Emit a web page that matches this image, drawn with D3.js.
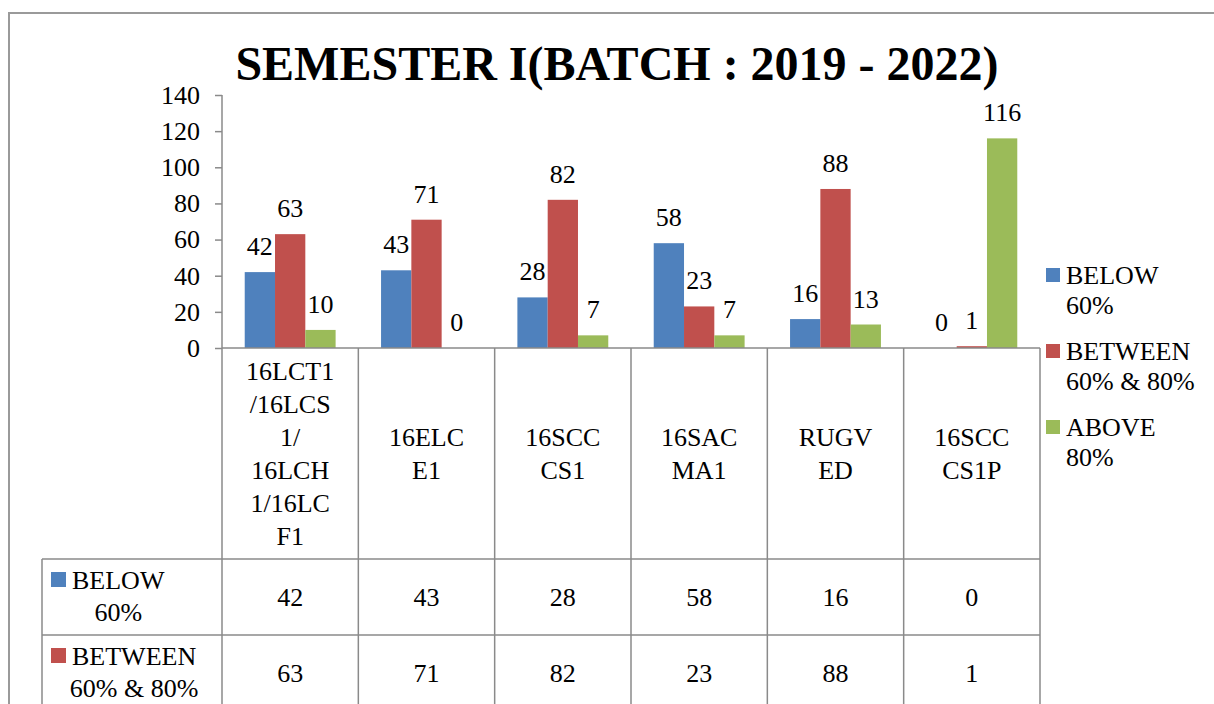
<!DOCTYPE html>
<html>
<head>
<meta charset="utf-8">
<script src="https://cdn.jsdelivr.net/npm/d3@7"></script>
<style>
  body { margin: 0; background: #fff; }
  text { font-family: "Liberation Serif", "Times New Roman", serif; fill: #000; }
</style>
</head>
<body>
<svg id="chart"></svg>
<script>
var categories = ["16LCT1/16LCS1/ 16LCH1/16LCF1", "16ELCE1", "16SCCCS1", "16SACMA1", "RUGVED", "16SCCCS1P"];
// how the category names wrap in the table header
var categoryLines = [
  ["16LCT1", "/16LCS", "1/", "16LCH", "1/16LC", "F1"],
  ["16ELC", "E1"],
  ["16SCC", "CS1"],
  ["16SAC", "MA1"],
  ["RUGV", "ED"],
  ["16SCC", "CS1P"]
];
var seriesNames = ["BELOW 60%", "BETWEEN 60% & 80%", "ABOVE 80%"];
var seriesLines = [["BELOW", "60%"], ["BETWEEN", "60% & 80%"], ["ABOVE", "80%"]];
var below = [42, 43, 28, 58, 16, 0];
var between = [63, 71, 82, 23, 88, 1];
var above = [10, 0, 7, 7, 13, 116];
var yTicks = [0, 20, 40, 60, 80, 100, 120, 140];
var title = "SEMESTER I(BATCH : 2019 - 2022)";

var colors = ["#4f81bd", "#c0504d", "#9bbb59"];
var series = [below, between, above];
var lineColor = "#8a8a8a";

var width = 1214, height = 704;
var svg = d3.select("#chart").attr("width", width).attr("height", height);

// outer frame
svg.append("path")
  .attr("d", "M9," + (height + 5) + "V13H" + (width + 5))
  .attr("fill", "none").attr("stroke", "#9a9a9a").attr("stroke-width", 2);

svg.append("text")
  .attr("x", 617).attr("y", 80)
  .attr("text-anchor", "middle")
  .style("font-size", "48px").style("font-weight", "bold")
  .text(title);

var x = d3.scaleBand().domain(categories).range([222, 1040]);
var xs = d3.scaleBand().domain([0, 1, 2])
  .range([0, x.bandwidth()]).paddingOuter(0.75).paddingInner(0);
var y = d3.scaleLinear().domain([0, 140]).range([348, 95]);

// bars
var g = svg.append("g");
series.forEach(function(vals, si) {
  g.selectAll(".bar" + si)
    .data(vals)
    .enter().append("rect")
    .attr("x", function(d, i) { return x(categories[i]) + xs(si); })
    .attr("y", function(d) { return y(d); })
    .attr("width", xs.bandwidth())
    .attr("height", function(d) { return y(0) - y(d); })
    .attr("fill", colors[si]);

  g.selectAll(".lab" + si)
    .data(vals)
    .enter().append("text")
    .attr("x", function(d, i) { return x(categories[i]) + xs(si) + xs.bandwidth() / 2; })
    .attr("y", function(d) { return y(d) - 17; })
    .attr("text-anchor", "middle")
    .style("font-size", "26px")
    .text(function(d) { return d; });
});

// y axis
var yAxis = d3.axisLeft(y).tickValues(yTicks).tickSize(7).tickPadding(15);
var ya = svg.append("g").attr("transform", "translate(222,0)").call(yAxis);
ya.select(".domain").remove();
ya.selectAll(".tick line").attr("stroke", lineColor).attr("stroke-width", 1.5);
ya.selectAll(".tick text")
  .style("font-size", "26px")
  .style("font-family", "'Liberation Serif', serif")
  .attr("fill", "#000");

// table grid
var headerBottom = 559, rowH = 76;
var rowTops = seriesNames.map(function(d, i) { return headerBottom + i * rowH; });
var grid = svg.append("g").attr("stroke", lineColor).attr("stroke-width", 1.5).attr("fill", "none");
grid.append("line").attr("x1", 222).attr("x2", 222).attr("y1", 95).attr("y2", height + 10);
grid.append("line").attr("x1", 222).attr("x2", 1040).attr("y1", y(0)).attr("y2", y(0));
categories.forEach(function(c) {
  grid.append("line").attr("x1", x(c) + x.bandwidth()).attr("x2", x(c) + x.bandwidth())
    .attr("y1", y(0)).attr("y2", height + 10);
});
grid.append("line").attr("x1", 42).attr("x2", 42).attr("y1", headerBottom).attr("y2", height + 10);
rowTops.forEach(function(t) {
  grid.append("line").attr("x1", 42).attr("x2", 1040).attr("y1", t).attr("y2", t);
});

// header labels
var headerMid = (y(0) + headerBottom) / 2;
categoryLines.forEach(function(lines, ci) {
  lines.forEach(function(l, li) {
    svg.append("text")
      .attr("x", x(categories[ci]) + x.bandwidth() / 2)
      .attr("y", headerMid + (li - (lines.length - 1) / 2) * 33)
      .attr("dy", "0.35em")
      .attr("text-anchor", "middle")
      .style("font-size", "26px")
      .text(l);
  });
});

// table rows (the third row falls below the visible page)
series.forEach(function(vals, si) {
  if (rowTops[si] >= height) return;
  var mid = rowTops[si] + rowH / 2;
  svg.append("rect").attr("x", 51).attr("y", mid - 25).attr("width", 15).attr("height", 15)
    .attr("fill", colors[si]);
  var t1 = svg.append("text").attr("x", 72).attr("y", mid - 17).attr("dy", "0.35em")
    .style("font-size", "26px").text(seriesLines[si][0]);
  var w1 = t1.node().getComputedTextLength();
  svg.append("text").attr("x", 72 + w1 / 2).attr("y", mid + 15).attr("dy", "0.35em")
    .attr("text-anchor", "middle").style("font-size", "26px").text(seriesLines[si][1]);
  vals.forEach(function(v, i) {
    svg.append("text")
      .attr("x", x(categories[i]) + x.bandwidth() / 2)
      .attr("y", mid).attr("dy", "0.35em")
      .attr("text-anchor", "middle")
      .style("font-size", "26px")
      .text(v);
  });
});

// legend
seriesLines.forEach(function(lines, si) {
  var top = 268 + si * 76;
  svg.append("rect").attr("x", 1046).attr("y", top).attr("width", 14).attr("height", 14)
    .attr("fill", colors[si]);
  lines.forEach(function(l, li) {
    svg.append("text").attr("x", 1066).attr("y", top + 7 + li * 30).attr("dy", "0.35em")
      .style("font-size", "26px").text(l);
  });
});
</script>
</body>
</html>
